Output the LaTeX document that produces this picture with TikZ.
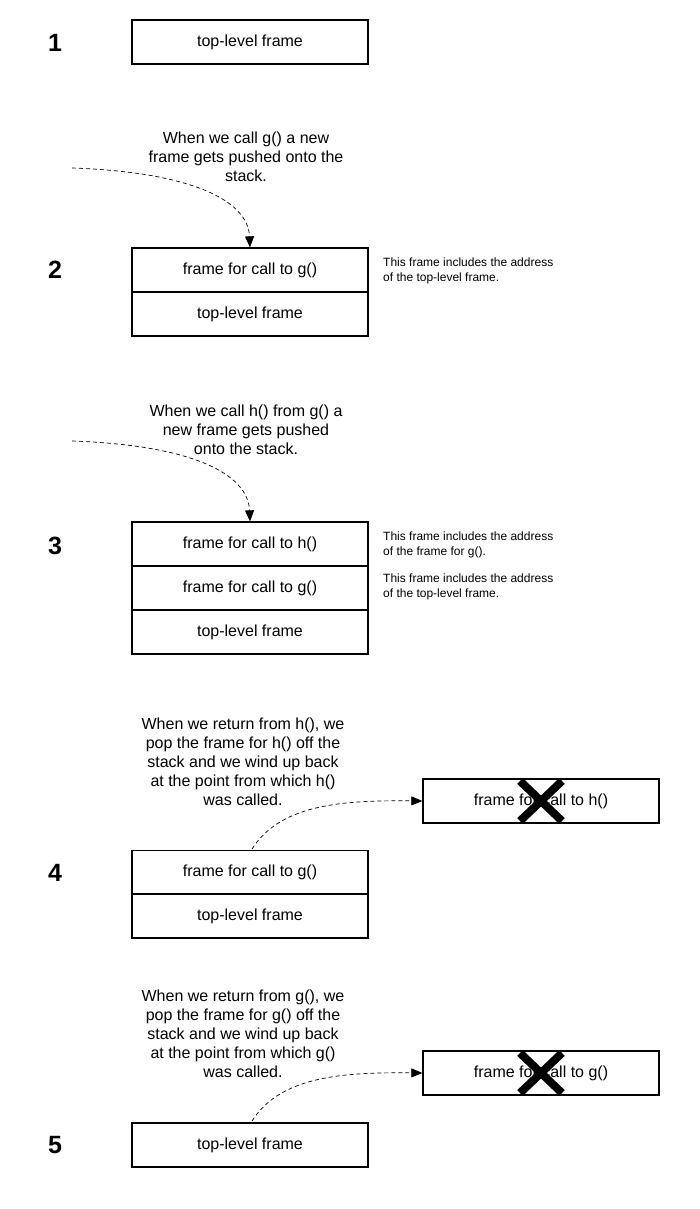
\documentclass[tikz,border=0pt]{standalone}
\usepackage{fontspec}
\setmainfont{Liberation Sans}
\usetikzlibrary{arrows.meta}
\begin{document}
\begin{tikzpicture}[x=1pt,y=-1pt,
  frame/.style={draw, line width=1.3pt, minimum width=236pt, minimum height=44pt, inner sep=0pt, font=\fontsize{16}{19}\selectfont},
  num/.style={font=\fontsize{25}{25}\selectfont\bfseries},
  expl/.style={align=center, font=\fontsize{16}{19}\selectfont, inner sep=0pt},
  note/.style={anchor=west, align=left, font=\fontsize{12}{15}\selectfont, inner sep=0pt},
  conn/.style={dashed, dash pattern=on 4pt off 3pt, line width=0.7pt, -{Triangle[length=11pt,width=9pt]}},
  xmark/.style={line width=8pt}
]
\useasboundingbox[fill=white] (0,0) rectangle (700,1209);
% numbers
\node[num] (n1) at (55,43) {1};
\node[num] (n2) at (55,270) {2};
\node[num] (n3) at (55,546) {3};
\node[num] (n4) at (55,873) {4};
\node[num] (n5) at (55,1145) {5};
% stage 1
\node[frame] (t1) at (250,42) {top-level frame};
% stage 2
\node[expl] (e2) at (246,157) {When we call g() a new\\frame gets pushed onto the\\stack.};
\node[frame] (g2) at (250,270) {frame for call to g()};
\node[frame] (t2) at (250,314) {top-level frame};
\node[note] (c2) at (383,271) {This frame includes the address\\of the top-level frame.};
\coordinate (s2) at (72,168);
\draw[conn] (s2) .. controls (190,172) and (248,200) .. (g2.north);
% stage 3
\node[expl] (e3) at (246,430) {When we call h() from g() a\\new frame gets pushed\\onto the stack.};
\node[frame] (h3) at (250,544) {frame for call to h()};
\node[frame] (g3) at (250,588) {frame for call to g()};
\node[frame] (t3) at (250,632) {top-level frame};
\node[note] (c3a) at (383,545) {This frame includes the address\\of the frame for g().};
\node[note] (c3b) at (383,587) {This frame includes the address\\of the top-level frame.};
\coordinate (s3) at (72,441);
\draw[conn] (s3) .. controls (190,445) and (248,473) .. (h3.north);
% stage 4
\node[expl] (e4) at (243,762) {When we return from h(), we\\pop the frame for h() off the\\stack and we wind up back\\at the point from which h()\\was called.};
\node[frame] (g4) at (250,872.5) {frame for call to g()};
\node[frame, line width=1.6pt] (t4) at (250,916) {top-level frame};
\node[frame] (h4) at (541,801) {frame for call to h()};
\coordinate (s4) at (252,849);
\draw[conn] (s4) .. controls (280,805) and (340,800) .. (h4.west);
\draw[xmark] (520,781) -- (562,821);
\draw[xmark] (520,821) -- (562,781);
% stage 5
\node[expl] (e5) at (243,1034) {When we return from g(), we\\pop the frame for g() off the\\stack and we wind up back\\at the point from which g()\\was called.};
\node[frame] (t5) at (250,1145) {top-level frame};
\node[frame] (g5) at (541,1073) {frame for call to g()};
\coordinate (s5) at (252,1121);
\draw[conn] (s5) .. controls (280,1077) and (340,1072) .. (g5.west);
\draw[xmark] (520,1053) -- (562,1093);
\draw[xmark] (520,1093) -- (562,1053);
\end{tikzpicture}
\end{document}
